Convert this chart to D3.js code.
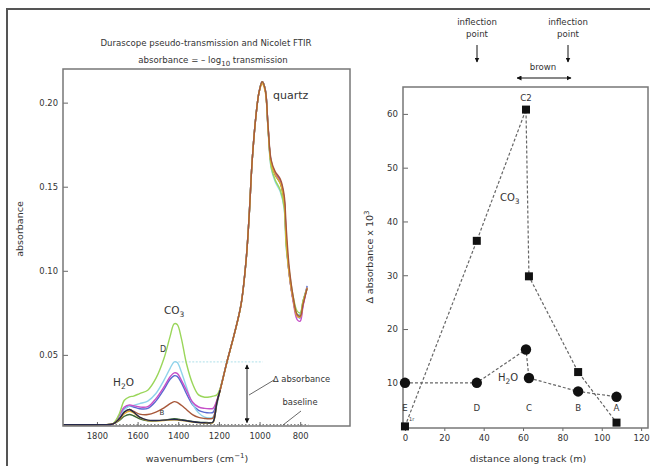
<!DOCTYPE html>
<html><head><meta charset="utf-8">
<script src="https://cdn.jsdelivr.net/npm/d3@7/dist/d3.min.js"></script>
<style>
html,body{margin:0;padding:0;background:#fff;}
svg text{font-family:"DejaVu Sans",Verdana,sans-serif;fill:#333;}
</style></head>
<body>
<svg id="c" width="650" height="466"></svg>
<script>
// ---------- Left panel: spectra ----------
const wavenumbers = [1965,1780,1720,1690,1665,1640,1620,1590,1550,1510,1470,1440,1420,1405,1385,1360,1330,1300,1270,1245,1229,1210,1194,1160,1125,1091,1066,1051,1036,1017,1002,987,972,958,943,923,898,879,869,854,835,815,800,786,766];
const specGreen   = [0.0085,0.0085,0.0092,0.0150,0.0230,0.0250,0.0255,0.0270,0.0290,0.0360,0.0480,0.0610,0.0685,0.0680,0.0600,0.0450,0.0330,0.0262,0.0248,0.0250,0.0255,0.0262,0.0300,0.0460,0.0620,0.0800,0.1065,0.1330,0.1660,0.1930,0.2065,0.2124,0.2077,0.1840,0.1620,0.1540,0.1480,0.1380,0.1150,0.1000,0.0850,0.0760,0.0750,0.0820,0.0890];
const specCyan    = [0.0085,0.0085,0.0090,0.0130,0.0175,0.0195,0.0200,0.0210,0.0225,0.0270,0.0350,0.0420,0.0458,0.0455,0.0400,0.0310,0.0210,0.0155,0.0130,0.0125,0.0130,0.0200,0.0295,0.0460,0.0620,0.0800,0.1065,0.1330,0.1660,0.1930,0.2065,0.2124,0.2077,0.1840,0.1610,0.1530,0.1470,0.1370,0.1140,0.0980,0.0830,0.0740,0.0740,0.0815,0.0900];
const specMagenta = [0.0085,0.0085,0.0090,0.0140,0.0190,0.0202,0.0198,0.0190,0.0192,0.0240,0.0310,0.0370,0.0393,0.0390,0.0350,0.0290,0.0220,0.0190,0.0182,0.0180,0.0182,0.0230,0.0295,0.0460,0.0620,0.0800,0.1065,0.1330,0.1660,0.1930,0.2065,0.2124,0.2077,0.1850,0.1640,0.1575,0.1530,0.1420,0.1190,0.0980,0.0820,0.0710,0.0700,0.0790,0.0900];
const specBlue    = [0.0085,0.0085,0.0090,0.0130,0.0180,0.0195,0.0190,0.0180,0.0182,0.0225,0.0295,0.0355,0.0376,0.0372,0.0335,0.0270,0.0205,0.0170,0.0158,0.0155,0.0158,0.0225,0.0293,0.0460,0.0620,0.0800,0.1065,0.1330,0.1660,0.1930,0.2065,0.2124,0.2077,0.1850,0.1650,0.1580,0.1535,0.1430,0.1200,0.0990,0.0830,0.0730,0.0720,0.0800,0.0910];
const specBrown   = [0.0085,0.0085,0.0090,0.0120,0.0160,0.0175,0.0165,0.0148,0.0145,0.0160,0.0185,0.0210,0.0222,0.0218,0.0200,0.0175,0.0145,0.0128,0.0122,0.0120,0.0125,0.0220,0.0290,0.0460,0.0620,0.0800,0.1065,0.1330,0.1660,0.1930,0.2065,0.2124,0.2077,0.1860,0.1660,0.1590,0.1545,0.1450,0.1260,0.1020,0.0850,0.0740,0.0730,0.0800,0.0895];
const specNavy    = [0.0085,0.0085,0.0090,0.0120,0.0160,0.0175,0.0160,0.0130,0.0112,0.0110,0.0112,0.0115,0.0116,0.0115,0.0112,0.0108,0.0102,0.0098,0.0096,0.0095,0.0100,0.0215,0.0290,0.0460,0.0620,0.0800,0.1065,0.1330,0.1660,0.1930,0.2065,0.2124,0.2077,0.1850,0.1640,0.1570,0.1520,0.1410,0.1180,0.0980,0.0830,0.0730,0.0720,0.0810,0.0905];
const specDkGreen = [0.0085,0.0085,0.0090,0.0110,0.0135,0.0145,0.0138,0.0120,0.0108,0.0108,0.0112,0.0118,0.0120,0.0119,0.0115,0.0110,0.0104,0.0100,0.0098,0.0097,0.0100,0.0215,0.0290,0.0460,0.0620,0.0800,0.1065,0.1330,0.1660,0.1930,0.2065,0.2124,0.2077,0.1850,0.1640,0.1570,0.1520,0.1410,0.1180,0.0980,0.0830,0.0740,0.0740,0.0820,0.0900];
const specGold    = [0.0085,0.0085,0.0090,0.0115,0.0150,0.0165,0.0155,0.0128,0.0110,0.0108,0.0110,0.0113,0.0114,0.0113,0.0110,0.0106,0.0100,0.0097,0.0095,0.0094,0.0098,0.0212,0.0288,0.0458,0.0618,0.0798,0.1063,0.1328,0.1658,0.1928,0.2063,0.2112,0.2064,0.1845,0.1640,0.1570,0.1520,0.1410,0.1180,0.0980,0.0830,0.0730,0.0725,0.0810,0.0900];
const specColors  = ["#3d6b3a","#5a6ad0","#8fd3ea","#c54fc8","#9ad65a","#e0b030","#a8583a","#24284a"];
const leftXTicks  = [1800,1600,1400,1200,1000,800];
const leftYTicks  = [0.05,0.10,0.15,0.20];

// ---------- Right panel: delta absorbance vs distance ----------
const siteLabels  = ["E","D","C2","C","B","A"];
const distance    = [0,36.5,61.5,63,88,107.5];
const co3Values   = [1.9,36.4,60.8,29.8,12.0,2.6];
const h2oValues   = [10.0,10.0,16.2,10.9,8.4,7.4];
const rightXTicks = [0,20,40,60,80,100,120];
const rightYTicks = [10,20,30,40,50,60];

const svg = d3.select("#c");
const defs = svg.append("defs");
defs.append("marker").attr("id","ah").attr("viewBox","0 0 10 10").attr("refX",9).attr("refY",5)
  .attr("markerWidth",5).attr("markerHeight",5).attr("orient","auto-start-reverse")
  .append("path").attr("d","M0,0 L10,5 L0,10 z").attr("fill","#111");

// outer border
svg.append("rect").attr("x",7).attr("y",9).attr("width",700).attr("height",500)
  .attr("fill","none").attr("stroke","#555").attr("stroke-width",2);

// ===== left =====
const xL = d3.scaleLinear().domain([1967,555]).range([63,350]);
const yL = d3.scaleLinear().domain([0.0077,0.220]).range([426,69]);
const gL = svg.append("g");

gL.append("text").attr("x",206).attr("y",46).attr("text-anchor","middle").attr("font-size",8.6)
  .text("Durascope pseudo-transmission and Nicolet FTIR");
const t2 = gL.append("text").attr("x",213).attr("y",63).attr("text-anchor","middle").attr("font-size",8.6);
t2.append("tspan").text("absorbance = \u2013 log");
t2.append("tspan").attr("font-size",7).attr("dy",3).text("10");
t2.append("tspan").attr("dy",-3).text(" transmission");

// axes
const axL = gL.append("g").attr("transform","translate(63,0)")
  .call(d3.axisLeft(yL).tickValues(leftYTicks).tickFormat(d3.format(".2f")).tickSizeInner(-5).tickSizeOuter(0).tickPadding(5));
const axB = gL.append("g").attr("transform","translate(0,426)")
  .call(d3.axisBottom(xL).tickValues(leftXTicks).tickFormat(d3.format("d")).tickSizeInner(-4).tickSizeOuter(0).tickPadding(7));
[axL,axB].forEach(a=>{a.select(".domain").remove();a.selectAll("line").attr("stroke","#666");
  a.selectAll("text").attr("font-size",8.4).attr("fill","#444").attr("font-family","DejaVu Sans");});

// data lines
const lineL = d3.line().x(d=>xL(d[0])).y(d=>yL(d[1])).curve(d3.curveCatmullRom.alpha(0.5));
const specs = [specDkGreen,specBlue,specCyan,specMagenta,specGreen,specGold,specBrown,specNavy];
// dotted baseline
gL.append("line").attr("x1",xL(1967)).attr("x2",xL(760)).attr("y1",yL(0.0085)).attr("y2",yL(0.0085))
  .attr("stroke","#888").attr("stroke-width",1.2).attr("stroke-dasharray","1.5,2");
// cyan dotted reference line
gL.append("line").attr("x1",xL(1400)).attr("x2",xL(985)).attr("y1",yL(0.0458)).attr("y2",yL(0.0458))
  .attr("stroke","#bfe6ee").attr("stroke-width",1.2).attr("stroke-dasharray","2,1.5");
specs.forEach((s,i)=>{
  const pts = wavenumbers.map((w,j)=>[w,s[j]]);
  // navy drawn last only in the low region, so the quartz band stays brown on top
  const data = i===specs.length-1 ? pts.filter(p=>p[0]>=1194) : pts;
  gL.append("path").datum(data)
    .attr("fill","none").attr("stroke",specColors[i]).attr("stroke-width",1.4)
    .attr("stroke-linejoin","round").attr("d",lineL);
});
// frame
gL.append("rect").attr("x",63).attr("y",69).attr("width",287).attr("height",357)
  .attr("fill","none").attr("stroke","#777").attr("stroke-width",1.5);

// delta arrow
gL.append("line").attr("x1",247).attr("x2",247).attr("y1",yL(0.0458)+3).attr("y2",yL(0.0085)-2)
  .attr("stroke","#222").attr("stroke-width",1).attr("marker-start","url(#ah)").attr("marker-end","url(#ah)");
gL.append("line").attr("x1",249).attr("y1",395).attr("x2",274).attr("y2",380).attr("stroke","#444").attr("stroke-width",0.8);
gL.append("text").attr("x",273).attr("y",382).attr("font-size",8.4).text("\u2206 absorbance");
gL.append("line").attr("x1",283).attr("y1",425).attr("x2",301).attr("y2",411).attr("stroke","#444").attr("stroke-width",0.8);
gL.append("text").attr("x",300).attr("y",405).attr("text-anchor","middle").attr("font-size",8.4).text("baseline");

// labels
gL.append("text").attr("x",273).attr("y",99).attr("font-size",11).text("quartz");
const co3L = gL.append("text").attr("x",164).attr("y",314).attr("font-size",10.5);
co3L.append("tspan").text("CO");
co3L.append("tspan").attr("font-size",7.5).attr("dy",3).text("3");
const h2oL = gL.append("text").attr("x",113).attr("y",386).attr("font-size",10.5);
h2oL.append("tspan").text("H");
h2oL.append("tspan").attr("font-size",7.5).attr("dy",3).text("2");
h2oL.append("tspan").attr("dy",-3).text("O");
gL.append("text").attr("x",163).attr("y",352).attr("text-anchor","middle").attr("font-size",8).attr("fill","#a8dc70").text("D");
gL.append("text").attr("x",162).attr("y",415).attr("text-anchor","middle").attr("font-size",7).attr("fill","#e07070").text("B");

gL.append("text").attr("transform","translate(23,229) rotate(-90)").attr("text-anchor","middle").attr("font-size",9.5).text("absorbance");
const xl = gL.append("text").attr("x",197).attr("y",462).attr("text-anchor","middle").attr("font-size",9.5);
xl.append("tspan").text("wavenumbers (cm");
xl.append("tspan").attr("font-size",7).attr("dy",-4).text("\u22121");
xl.append("tspan").attr("dy",4).text(")");

// ===== right =====
const xR = d3.scaleLinear().domain([-1,123.5]).range([403,648]);
const yR = d3.scaleLinear().domain([1.6,65]).range([428,87]);
const gR = svg.append("g");
const axRL = gR.append("g").attr("transform","translate(403,0)")
  .call(d3.axisLeft(yR).tickValues(rightYTicks).tickSizeInner(-5).tickSizeOuter(0).tickPadding(5));
const axRB = gR.append("g").attr("transform","translate(0,428)")
  .call(d3.axisBottom(xR).tickValues(rightXTicks).tickSizeInner(3).tickSizeOuter(0).tickPadding(4));
[axRL,axRB].forEach(a=>{a.select(".domain").remove();a.selectAll("line").attr("stroke","#666");
  a.selectAll("text").attr("font-size",8.6).attr("fill","#444").attr("font-family","DejaVu Sans");});

const lineR = d3.line().x(d=>xR(d[0])).y(d=>yR(d[1]));
const co3Pts = distance.map((d,i)=>[d,co3Values[i]]);
const h2oPts = distance.map((d,i)=>[d,h2oValues[i]]);
[co3Pts,h2oPts].forEach(p=>{
  gR.append("path").datum(p).attr("fill","none").attr("stroke","#666").attr("stroke-width",1.2)
    .attr("stroke-dasharray","3,2").attr("d",lineR);
});
gR.append("rect").attr("x",403).attr("y",87).attr("width",245).attr("height",341)
  .attr("fill","none").attr("stroke","#777").attr("stroke-width",1.5);
gR.selectAll(".sq").data(co3Pts).enter().append("rect")
  .attr("x",d=>xR(d[0])-4).attr("y",d=>yR(d[1])-4).attr("width",8).attr("height",8).attr("fill","#111");
gR.selectAll(".ci").data(h2oPts).enter().append("circle")
  .attr("cx",d=>xR(d[0])).attr("cy",d=>yR(d[1])).attr("r",5.2).attr("fill","#111");

// site labels
siteLabels.forEach((s,i)=>{
  const y = s==="C2" ? 101 : 411;
  gR.append("text").attr("x",xR(distance[i])).attr("y",y).attr("text-anchor","middle").attr("font-size",8.6).text(s);
});
gR.append("text").attr("x",409).attr("y",421).attr("font-size",5).attr("fill","#777").text("1r");

const co3R = gR.append("text").attr("x",500).attr("y",201).attr("font-size",10);
co3R.append("tspan").text("CO");
co3R.append("tspan").attr("font-size",7.5).attr("dy",3).text("3");
const h2oR = gR.append("text").attr("x",498).attr("y",381).attr("font-size",10);
h2oR.append("tspan").text("H");
h2oR.append("tspan").attr("font-size",7.5).attr("dy",3).text("2");
h2oR.append("tspan").attr("dy",-3).text("O");

// y label
const yl = gR.append("text").attr("transform","translate(373,257) rotate(-90)").attr("text-anchor","middle").attr("font-size",9.5);
yl.append("tspan").text("\u2206 absorbance x 10");
yl.append("tspan").attr("font-size",7).attr("dy",-4).text("3");
gR.append("text").attr("x",528).attr("y",462).attr("text-anchor","middle").attr("font-size",9.5).text("distance along track (m)");

// top annotations
[[477,"inflection","point"],[568,"inflection","point"]].forEach(a=>{
  gR.append("text").attr("x",a[0]).attr("y",25).attr("text-anchor","middle").attr("font-size",8.6).text(a[1]);
  gR.append("text").attr("x",a[0]).attr("y",37).attr("text-anchor","middle").attr("font-size",8.6).text(a[2]);
  gR.append("line").attr("x1",a[0]).attr("x2",a[0]).attr("y1",45).attr("y2",62)
    .attr("stroke","#111").attr("stroke-width",1).attr("marker-end","url(#ah)");
});
gR.append("text").attr("x",543).attr("y",70).attr("text-anchor","middle").attr("font-size",8.6).text("brown");
gR.append("line").attr("x1",517).attr("x2",571).attr("y1",78).attr("y2",78)
  .attr("stroke","#111").attr("stroke-width",1).attr("marker-start","url(#ah)").attr("marker-end","url(#ah)");
</script>
</body></html>
